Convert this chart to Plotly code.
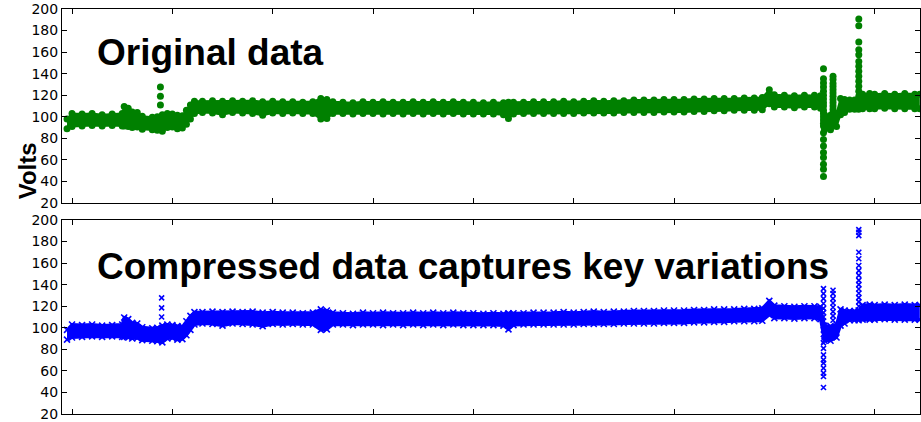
import plotly.graph_objects as go

# ---- data (sample index vs volts) ----
X = [-50, 0, 100, 200, 300, 400, 500, 520, 560, 600, 650, 700, 800, 850, 900, 950,
     1000, 1050, 1100, 1140, 1180, 1220, 1300, 1400, 1500, 1600, 1700, 1800, 1900,
     2000, 2100, 2200, 2300, 2400, 2480, 2540, 2600, 2700, 2800, 2900, 3000, 3100,
     3200, 3300, 3400, 3500, 3600, 3700, 3800, 3900, 4000, 4100, 4200, 4300, 4350,
     4400, 4500, 4600, 4700, 4800, 4900, 5000, 5100, 5200, 5300, 5400, 5500, 5600,
     5700, 5800, 5900, 6000, 6100, 6200, 6300, 6400, 6500, 6600, 6700, 6800, 6880,
     6950, 7000, 7100, 7200, 7300, 7400, 7460, 7500, 7560, 7620, 7660, 7700, 7750,
     7800, 7840, 7880, 7950, 8000, 8100, 8200, 8300, 8400, 8450]
HI = [98, 103, 102.5, 103, 102, 102.5, 103, 109.5, 108, 104.5, 104, 100.5, 99.5, 100, 102, 103,
      102.5, 101.5, 101, 106, 111, 114.5, 114.5, 115, 114.5, 115, 114.5, 115, 114,
      114.5, 114, 114, 113.5, 114, 117, 116, 114, 113.5, 113, 114, 113.5, 114,
      113.5, 113.5, 114, 113.5, 114, 113.5, 114, 113.5, 113.5, 113, 113.5, 113, 113.5,
      113.5, 113.5, 114, 114, 114, 114.5, 114, 114.5, 115, 114.5, 115, 115, 115.5,
      115.5, 115.5, 116, 116, 116, 116.5, 116.5, 117, 117, 117, 117.5, 117.5, 118,
      125, 120.5, 120, 119.5, 120, 120, 119.5, 102, 101.5, 103, 117, 116, 115.5,
      115.5, 116, 121, 121.5, 121, 121.5, 121, 121.5, 121, 121]
LO = [89, 91, 91.5, 92, 91.5, 92, 91.5, 91.5, 91, 90, 90.5, 88.5, 88, 87.5, 86.5, 90,
      90.5, 89, 89.5, 93, 98, 103, 104, 103.5, 102, 104, 103.5, 103, 101.5,
      103.5, 103, 103.5, 103, 103, 98, 98.5, 103, 103, 102.5, 103, 103, 102.5,
      103, 102.5, 103, 102.5, 103, 102.5, 103, 102.5, 102.5, 102.5, 102.5, 102, 98.5,
      102.5, 103, 103, 103, 103, 103, 103, 103.5, 103.5, 103.5, 103.5, 104, 104,
      104, 104, 104.5, 104.5, 104.5, 105, 105, 105.5, 105.5, 106, 106, 106, 106.5,
      112, 109, 109, 108.5, 109, 109, 108, 88, 88, 91, 102, 104, 107,
      107, 107, 107.5, 107.5, 107.5, 108, 107.5, 107.5, 107.5, 107.5]

# spikes in the original data (x position, values)
ORIG_SPIKE_X = [881, 7490, 7585, 7842]
ORIG_SPIKE_V = [
    [111, 119, 127.7],
    [144.6, 135.4, 131.4, 127.7, 123.7, 120, 116.5, 113, 110, 106, 103, 100, 97, 94, 91.4,
     85.3, 79, 72.9, 66.8, 62.2, 56, 51.4, 44.6],
    [137.5, 134.5, 131, 128, 125, 122, 119, 116, 113, 110, 107, 104],
    [190.8, 184.4, 169.3, 162.2, 157.6, 151.4, 146.8, 142.2, 137.5, 133, 128.4, 123.7, 119],
]
# spikes kept in the compressed data
COMP_SPIKE_X = [893, 7490, 7585, 7842]
COMP_SPIKE_V = [
    [110, 118.5, 127.7],
    [136.3, 131.7, 127, 122.5, 118, 114, 110, 106, 102, 98, 94, 90, 86, 80.9, 74.8, 70.2,
     67.2, 62.5, 57.9, 54.8, 44.6],
    [134.8, 131.7, 127, 123, 119, 115, 111, 107],
    [191, 188.6, 185.5, 170, 164, 157.8, 153, 148.6, 144, 140, 136, 132, 128, 124, 120],
]

Y_TICKS = [20, 40, 60, 80, 100, 120, 140, 160, 180, 200]

GREEN = "#008000"
BLUE = "#0000ff"

fig = go.Figure()

# --- top panel: original data (green circles) ---
fig.add_trace(go.Scatter(x=X, y=LO, mode="lines+markers", xaxis="x", yaxis="y",
                         marker=dict(symbol="circle", size=7, color=GREEN),
                         line=dict(width=2, color=GREEN), showlegend=False, hoverinfo="skip"))
fig.add_trace(go.Scatter(x=X, y=HI, mode="lines+markers", xaxis="x", yaxis="y",
                         fill="tonexty", fillcolor=GREEN,
                         marker=dict(symbol="circle", size=7, color=GREEN),
                         line=dict(width=2, color=GREEN), showlegend=False, hoverinfo="skip"))
for sx, sv in zip(ORIG_SPIKE_X, ORIG_SPIKE_V):
    fig.add_trace(go.Scatter(x=[sx] * len(sv), y=sv, mode="markers", xaxis="x", yaxis="y",
                             marker=dict(symbol="circle", size=7, color=GREEN),
                             showlegend=False, hoverinfo="skip"))

# --- bottom panel: compressed data (blue x) ---
fig.add_trace(go.Scatter(x=X, y=LO, mode="lines+markers", xaxis="x2", yaxis="y2",
                         marker=dict(symbol="x-thin", size=6, color=BLUE,
                                     line=dict(width=1.6, color=BLUE)),
                         line=dict(width=3, color=BLUE), showlegend=False, hoverinfo="skip"))
fig.add_trace(go.Scatter(x=X, y=HI, mode="lines+markers", xaxis="x2", yaxis="y2",
                         fill="tonexty", fillcolor=BLUE,
                         marker=dict(symbol="x-thin", size=6, color=BLUE,
                                     line=dict(width=1.6, color=BLUE)),
                         line=dict(width=3, color=BLUE), showlegend=False, hoverinfo="skip"))
for sx, sv in zip(COMP_SPIKE_X, COMP_SPIKE_V):
    fig.add_trace(go.Scatter(x=[sx] * len(sv), y=sv, mode="markers", xaxis="x2", yaxis="y2",
                             marker=dict(symbol="x-thin", size=5, color=BLUE,
                                         line=dict(width=1.6, color=BLUE)),
                             showlegend=False, hoverinfo="skip"))

xcommon = dict(range=[-100, 8452], tick0=0, dtick=1000, ticks="inside", ticklen=5,
               tickcolor="black", showticklabels=False, showline=True, linecolor="black",
               linewidth=1, mirror="ticks", showgrid=False, zeroline=False)
ycommon = dict(range=[20, 200], tickvals=Y_TICKS, ticks="inside", ticklen=5,
               tickcolor="black", showline=True, linecolor="black", linewidth=1,
               mirror="ticks", showgrid=False, zeroline=False,
               tickfont=dict(family="DejaVu Sans", size=14, color="black"))

fig.update_layout(
    width=921, height=422,
    margin=dict(l=62, r=0, t=9, b=6),
    paper_bgcolor="white", plot_bgcolor="white",
    xaxis=dict(anchor="y", domain=[0, 1], **xcommon),
    xaxis2=dict(anchor="y2", domain=[0, 1], **xcommon),
    yaxis=dict(anchor="x", domain=[0.5209, 1], **ycommon),
    yaxis2=dict(anchor="x2", domain=[0, 0.4791], **ycommon),
    annotations=[
        dict(text="<b>Original data</b>", xref="paper", yref="paper",
             x=0.0384, y=0.893, xanchor="left", yanchor="middle", showarrow=False,
             font=dict(family="Liberation Sans", size=37, color="black")),
        dict(text="<b>Compressed data captures key variations</b>", xref="paper", yref="paper",
             x=0.0384, y=0.3649, xanchor="left", yanchor="middle", showarrow=False,
             font=dict(family="Liberation Sans", size=37, color="black")),
        dict(text="<b>Volts</b>", xref="paper", yref="paper", textangle=-90,
             x=-0.0407, y=0.5995, xanchor="center", yanchor="middle", showarrow=False,
             font=dict(family="Liberation Sans", size=24, color="black")),
    ],
)

fig.write_html("out.html", config={"displayModeBar": False},
               post_script="document.body.style.margin='0';document.body.style.overflow='hidden';")
